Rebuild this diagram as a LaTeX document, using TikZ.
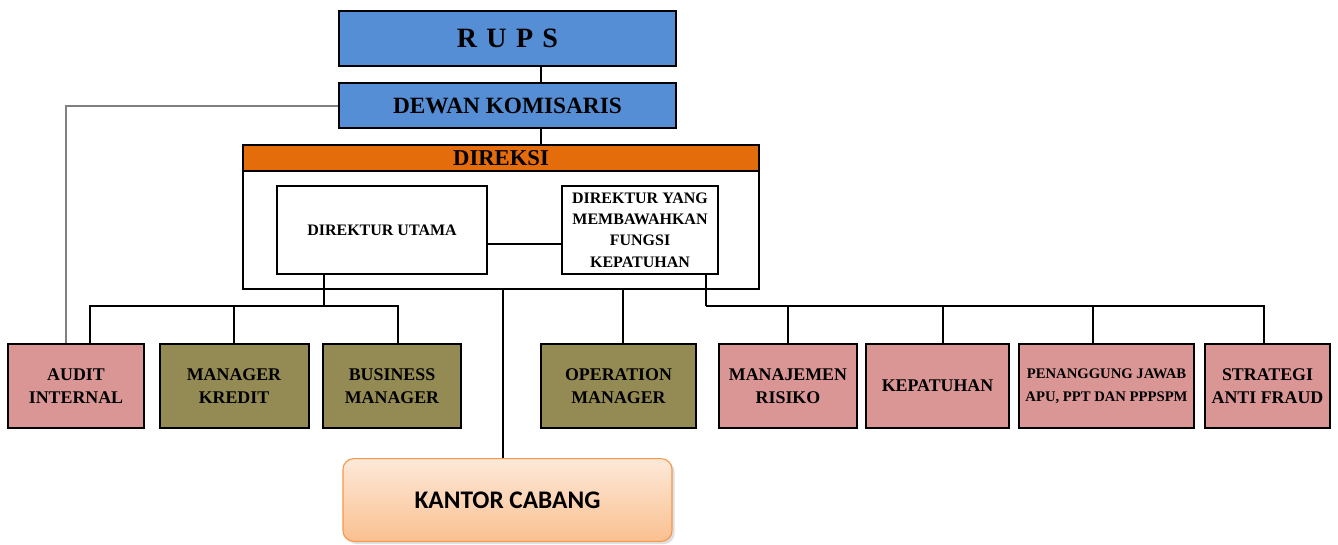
\documentclass[tikz,border=0pt]{standalone}
\usepackage{fontspec}
\setmainfont{Liberation Serif}
\newfontfamily\calibri{Carlito}
\usetikzlibrary{calc,shadows}
\definecolor{rupsblue}{HTML}{558ED5}
\definecolor{direksiorange}{HTML}{E46C0A}
\definecolor{pinkbox}{HTML}{D99694}
\definecolor{olivebox}{HTML}{948A54}
\definecolor{kantortop}{HTML}{FDE9D9}
\definecolor{kantorbot}{HTML}{FAC090}
\definecolor{kantorline}{HTML}{F79646}
\tikzset{
  box/.style={draw=black, line width=1.5pt, rectangle, inner sep=2pt, align=center},
  topbox/.style={box, fill=rupsblue, minimum width=253pt},
  dirbox/.style={box, fill=white, minimum height=66pt, font=\fontsize{12}{16}\selectfont\bfseries},
  lowbox/.style={box, minimum height=63pt, font=\fontsize{13.4}{17}\selectfont\bfseries},
  pinkb/.style={lowbox, fill=pinkbox},
  oliveb/.style={lowbox, fill=olivebox},
  conn/.style={draw=black, line width=1.4pt},
  grayconn/.style={draw=gray, line width=1.5pt},
}
\begin{document}
\begin{tikzpicture}[x=0.75pt,y=-0.75pt]
\useasboundingbox (0,0) rectangle (1338,544);
% top
\node[topbox, minimum height=41.25pt, font=\fontsize{21}{25}\selectfont\bfseries] (rups) at (507.5,38.5) {R\,\,U\,\,P\,\,S};
\node[topbox, minimum height=33.75pt, font=\fontsize{17.5}{21}\selectfont\bfseries] (dewan) at (507.5,105.5) {DEWAN KOMISARIS};
% direksi frame
\node[box, fill=white, minimum width=387pt, minimum height=108pt] (direksi) at (501,217) {};
\node[box, fill=direksiorange, minimum width=387pt, minimum height=19.5pt, inner sep=0pt, font=\fontsize{17}{19}\selectfont\bfseries] (dirhead) at (501,158) {DIREKSI};
\node[dirbox, minimum width=157.5pt] (dirut) at (382,230) {DIREKTUR UTAMA};
\node[dirbox, minimum width=117pt, inner sep=1pt] (dirkep) at (640,230) {DIREKTUR YANG\\MEMBAWAHKAN\\FUNGSI\\KEPATUHAN};
% bottom row
\node[pinkb, minimum width=102pt] (audit) at (76,386) {AUDIT\\INTERNAL};
\node[oliveb, minimum width=111.75pt] (kredit) at (234,386) {MANAGER\\KREDIT};
\node[oliveb, minimum width=103.5pt] (business) at (392,386) {BUSINESS\\MANAGER};
\node[oliveb, minimum width=116.25pt] (oper) at (618.5,386) {OPERATION\\MANAGER};
\node[pinkb, minimum width=103.5pt] (risk) at (788,386) {MANAJEMEN\\RISIKO};
\node[pinkb, minimum width=107.25pt] (kepat) at (937.5,386) {KEPATUHAN};
\node[pinkb, minimum width=131.25pt, font=\fontsize{11}{17}\selectfont\bfseries] (penang) at (1106.5,386) {PENANGGUNG JAWAB\\APU, PPT DAN PPPSPM};
\node[pinkb, minimum width=93.75pt] (strat) at (1267.5,386) {STRATEGI\\ANTI FRAUD};
% kantor cabang
\node[draw=kantorline, line width=0.8pt, rounded corners=8pt, top color=kantortop, bottom color=kantorbot,
      drop shadow={shadow xshift=2pt, shadow yshift=-2pt, fill=gray!50},
      minimum width=246.75pt, minimum height=62pt, font=\calibri\fontsize{19}{22}\selectfont\bfseries] (kantor) at (507.5,500) {KANTOR CABANG};
% connectors
\draw[conn] ([xshift=25pt]rups.south) -- ([xshift=25pt]dewan.north);
\draw[conn] ([xshift=25pt]dewan.south) -- ([xshift=25pt]dewan.south |- dirhead.north);
\draw[grayconn] (dewan.west) -| ([xshift=-7.5pt]audit.north);
\draw[conn] ([yshift=-10.5pt]dirut.east) -- ([yshift=-10.5pt]dirut.east -| dirkep.west);
% left bus
\coordinate (busl) at (324,306);
\draw[conn] ([xshift=-43.5pt]dirut.south) -- (busl);
\draw[conn] ([xshift=10.5pt]audit.north) |- (busl) -| ([xshift=4.5pt]business.north);
\draw[conn] (kredit.north) -- (kredit.north |- busl);
% right bus
\coordinate (busr) at (706,306);
\draw[conn] ([xshift=49.5pt]dirkep.south) -- (busr);
\draw[conn] (busr) -| ([xshift=-2.6pt]strat.north);
\draw[conn] (risk.north) -- (risk.north |- busr);
\draw[conn] ([xshift=4pt]kepat.north) -- ([xshift=4pt]kepat.north |- busr);
\draw[conn] ([xshift=-10pt]penang.north) -- ([xshift=-10pt]penang.north |- busr);
% direksi to kantor and operation
\draw[conn] ([xshift=-3.4pt]kantor.north) -- ([xshift=-3.4pt]kantor.north |- direksi.south);
\draw[conn] ([xshift=3.4pt]oper.north) -- ([xshift=3.4pt]oper.north |- direksi.south);
\end{tikzpicture}
\end{document}
